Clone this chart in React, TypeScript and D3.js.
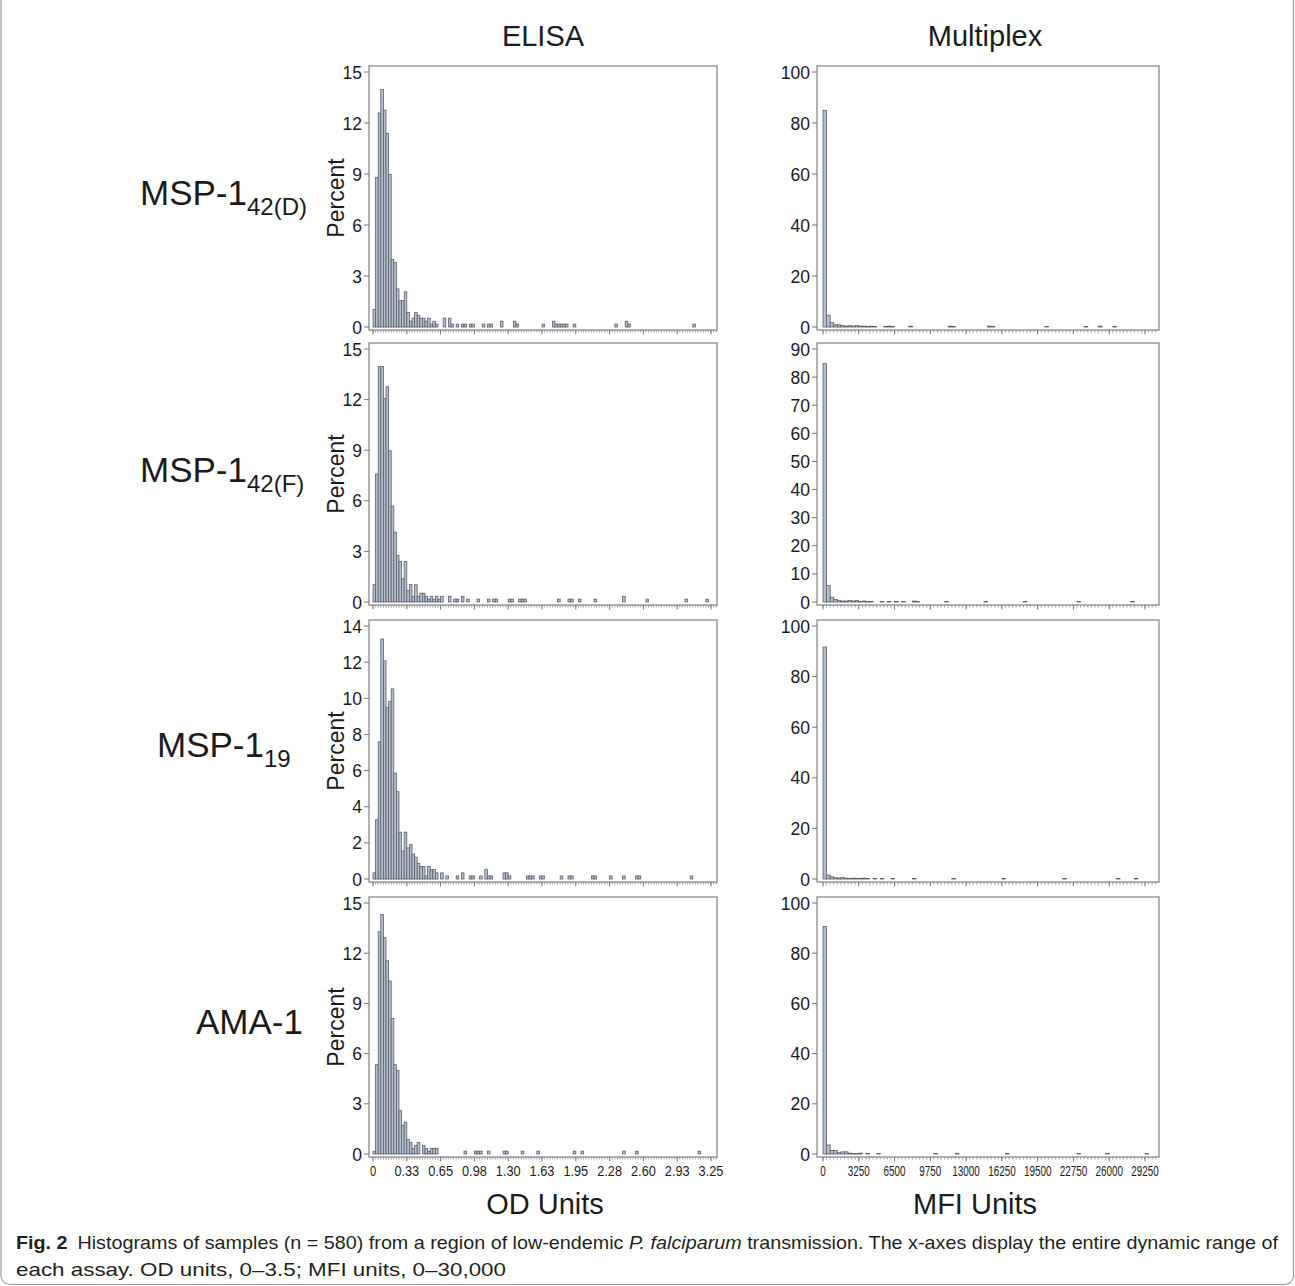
import React from "react";
import * as d3 from "d3";

// row labels
const antigenNames = ["MSP-1", "MSP-1", "MSP-1", "AMA-1"];
const antigenSubs = ["42(D)", "42(F)", "19", ""];

// x tick labels
const odTickLabels = ["0", "0.33", "0.65", "0.98", "1.30", "1.63", "1.95", "2.28", "2.60", "2.93", "3.25"];
const mfiTickLabels = ["0", "3250", "6500", "9750", "13000", "16250", "19500", "22750", "26000", "29250"];
const odTickStep = 0.325;
const mfiTickStep = 3250;
const odBinWidth = 0.025;
const mfiBinWidth = 325;

// y axes per row
const elisaYMax = [15, 15, 14, 15];
const elisaYStep = [3, 3, 2, 3];
const mfiYMax = [100, 90, 100, 100];
const mfiYStep = [20, 10, 20, 20];

// ELISA percent per bin: dense first bins, then [bin, percent] for the sparse tail
const elisaDHead = [1.03, 8.79, 12.59, 13.97, 12.76, 11.38, 8.97, 3.97, 3.79, 2.24, 1.55, 1.55, 2.07, 0.86, 0.34, 0.52, 0.86, 0.69, 0.52, 0.52, 0.34, 0.52, 0.17, 0.34, 0.17];
const elisaDTail = [[27, 0.52], [29, 0.52], [30, 0.17], [32, 0.17], [34, 0.17], [35, 0.17], [37, 0.17], [38, 0.17], [42, 0.17], [44, 0.17], [45, 0.17], [49, 0.34], [54, 0.34], [55, 0.17], [65, 0.17], [69, 0.34], [70, 0.17], [71, 0.17], [72, 0.17], [73, 0.17], [74, 0.17], [77, 0.17], [93, 0.17], [97, 0.34], [98, 0.17], [123, 0.17]];

const elisaFHead = [1.03, 7.59, 13.97, 13.97, 12.07, 12.76, 8.97, 5.69, 4.14, 2.76, 2.41, 1.38, 2.41, 0.69, 1.03, 0.34, 1.03, 0.34, 0.52, 0.52, 0.34, 0.17, 0.34, 0.17, 0.34, 0.17, 0.34];
const elisaFTail = [[29, 0.34], [31, 0.17], [32, 0.17], [34, 0.34], [36, 0.17], [40, 0.17], [44, 0.17], [46, 0.17], [47, 0.17], [52, 0.17], [53, 0.17], [56, 0.17], [57, 0.17], [58, 0.17], [71, 0.17], [75, 0.17], [76, 0.17], [79, 0.17], [85, 0.17], [96, 0.34], [105, 0.17], [120, 0.17], [128, 0.17]];

const elisa19Head = [0.34, 3.28, 7.59, 13.28, 12.07, 9.48, 9.83, 10.52, 5.86, 4.83, 2.59, 1.55, 2.59, 1.72, 1.9, 1.38, 1.21, 0.86, 0.69, 0.69, 0.17, 0.69, 0.52, 0.52, 0.34, 0, 0.34];
const elisa19Tail = [[28, 0.17], [32, 0.17], [34, 0.34], [37, 0.17], [38, 0.17], [41, 0.17], [43, 0.52], [44, 0.17], [45, 0.17], [50, 0.34], [51, 0.34], [52, 0.17], [59, 0.17], [60, 0.17], [61, 0.17], [64, 0.17], [65, 0.17], [72, 0.17], [75, 0.17], [76, 0.17], [84, 0.17], [85, 0.17], [91, 0.17], [96, 0.17], [101, 0.17], [102, 0.17], [122, 0.17]];

const elisaAmaHead = [0.17, 5.34, 13.28, 14.31, 12.93, 11.55, 10.34, 8.1, 5.34, 5.0, 2.59, 1.72, 1.9, 0.86, 0.69, 0.34, 0.52, 0.69, 0, 0.52, 0.34, 0.17, 0.34, 0.34, 0.34];
const elisaAmaTail = [[35, 0.17], [39, 0.17], [40, 0.17], [41, 0.17], [44, 0.17], [50, 0.17], [51, 0.17], [57, 0.17], [63, 0.17], [77, 0.17], [80, 0.17], [96, 0.17], [101, 0.17], [125, 0.17]];

// Multiplex percent per bin
const mfiDHead = [85.0, 4.66, 1.72, 0.86, 0.86, 0.52, 0.34, 0.52, 0.34, 0.52, 0.34, 0.34, 0.17, 0.34, 0.17];
const mfiDTail = [[17, 0.17], [18, 0.34], [19, 0.17], [24, 0.34], [35, 0.34], [36, 0.17], [46, 0.34], [47, 0.17], [62, 0.17], [73, 0.17], [77, 0.34], [81, 0.17]];

const mfiFHead = [84.8, 5.9, 1.72, 0.86, 0.52, 0.34, 0.34, 0.52, 0.34, 0.52, 0.17, 0.34, 0.17, 0.17];
const mfiFTail = [[16, 0.17], [18, 0.17], [20, 0.17], [22, 0.17], [25, 0.34], [26, 0.17], [34, 0.17], [45, 0.17], [56, 0.17], [71, 0.17], [86, 0.17]];

const mfi19Head = [91.7, 1.55, 0.86, 0.52, 0.34, 0.52, 0.34, 0.17, 0.34, 0.17, 0.17, 0.34, 0.17];
const mfi19Tail = [[14, 0.17], [16, 0.17], [19, 0.17], [25, 0.17], [36, 0.17], [50, 0.17], [67, 0.17], [82, 0.17], [87, 0.17]];

const mfiAmaHead = [90.7, 3.6, 1.38, 1.38, 0.52, 0.86, 0.86, 0.34, 0.17, 0.17, 0.34];
const mfiAmaTail = [[12, 0.17], [15, 0.17], [31, 0.17], [37, 0.17], [51, 0.17], [71, 0.17], [79, 0.17], [90, 0.17]];

const elisaHeads = [elisaDHead, elisaFHead, elisa19Head, elisaAmaHead];
const elisaTails = [elisaDTail, elisaFTail, elisa19Tail, elisaAmaTail];
const mfiHeads = [mfiDHead, mfiFHead, mfi19Head, mfiAmaHead];
const mfiTails = [mfiDTail, mfiFTail, mfi19Tail, mfiAmaTail];

const FONT = "'Liberation Sans', Arial, sans-serif";
const INK = "#1b1b1b";

const rows = [
  { top: 66, bottom: 330, labelY: 205, labelX: 140 },
  { top: 343, bottom: 605, labelY: 482, labelX: 140 },
  { top: 620, bottom: 882, labelY: 757, labelX: 157 },
  { top: 897, bottom: 1157, labelY: 1034, labelX: 196 },
];

type HistProps = {
  frameLeft: number;
  frameRight: number;
  top: number;
  bottom: number;
  xRange: [number, number];
  xMaxTick: number;
  tickStep: number;
  binWidth: number;
  tickLabels: string[] | null;
  charWidth: number;
  head: number[];
  tail: number[][];
  yMax: number;
  yStep: number;
  yLabelRight: number;
  percentLabel: boolean;
};

function Histogram(p: HistProps) {
  const x = d3.scaleLinear().domain([0, p.xMaxTick]).range(p.xRange);
  const y = d3.scaleLinear().domain([0, p.yMax]).range([p.bottom - 3, p.top + 6]);
  const bins = p.head
    .map((v, i) => ({ i, v }))
    .concat(p.tail.map(([i, v]) => ({ i, v })))
    .filter((b) => b.v > 0);
  const yTicks = d3.range(0, p.yMax + 0.001, p.yStep);
  const xMax = x.invert(p.frameRight);
  const minor = d3.range(0, xMax, p.binWidth);
  const major = d3.range(0, p.xMaxTick + p.tickStep / 2, p.tickStep);
  return (
    <g>
      {bins.map((b) => (
        <rect
          key={b.i}
          x={x(b.i * p.binWidth)}
          width={x((b.i + 1) * p.binWidth) - x(b.i * p.binWidth)}
          y={y(b.v)}
          height={y(0) - y(b.v)}
          fill="#b6bfce"
          stroke="#59606c"
          strokeWidth={0.8}
        />
      ))}
      <rect
        x={p.frameLeft}
        y={p.top}
        width={p.frameRight - p.frameLeft}
        height={p.bottom - p.top}
        fill="none"
        stroke="#9a9a9a"
        strokeWidth={1.5}
      />
      {minor.map((v, k) => (
        <line key={"m" + k} x1={x(v)} x2={x(v)} y1={p.bottom} y2={p.bottom + 2.5} stroke="#8a8a8a" strokeWidth={0.8} />
      ))}
      {major.map((v, k) => (
        <line key={"M" + k} x1={x(v)} x2={x(v)} y1={p.bottom} y2={p.bottom + 4.5} stroke="#777" strokeWidth={1} />
      ))}
      {yTicks.map((t) => (
        <g key={"y" + t}>
          <line x1={p.frameLeft - 5} x2={p.frameLeft} y1={y(t)} y2={y(t)} stroke="#777" strokeWidth={1} />
          <text x={p.yLabelRight} y={y(t) + 6.5} textAnchor="end" fontSize={17.5} fontFamily={FONT} fill={INK}>
            {t}
          </text>
        </g>
      ))}
      {p.tickLabels &&
        p.tickLabels.map((s, k) => (
          <text
            key={"xl" + k}
            x={x(k * p.tickStep)}
            y={p.bottom + 19}
            textAnchor="middle"
            fontSize={14}
            fontFamily={FONT}
            fill={INK}
            textLength={s.length * p.charWidth}
            lengthAdjust="spacingAndGlyphs"
          >
            {s}
          </text>
        ))}
      {p.percentLabel && (
        <text
          transform={`translate(344,${(p.top + p.bottom) / 2}) rotate(-90)`}
          textAnchor="middle"
          fontSize={23}
          fontFamily={FONT}
          fill={INK}
        >
          Percent
        </text>
      )}
    </g>
  );
}

export default function App() {
  const W = 1295;
  const H = 1286;
  return (
    <svg width={W} height={H} style={{ position: "absolute", left: 0, top: 0, background: "#fff" }}>
      <rect x={1} y={-10} width={W - 2.5} height={H - 1.5 + 10} rx={9} fill="#fff" stroke="#9c9c9c" strokeWidth={1.2} />
      <text x={543} y={46} textAnchor="middle" fontSize={29} fontFamily={FONT} fill={INK}>ELISA</text>
      <text x={985} y={46} textAnchor="middle" fontSize={29} fontFamily={FONT} fill={INK}>Multiplex</text>
      {rows.map((r, i) => (
        <g key={i}>
          <text x={r.labelX} y={r.labelY} fontSize={35} fontFamily={FONT} fill={INK}>
            {antigenNames[i]}
            {antigenSubs[i] && (
              <tspan fontSize={24} dy={10}>{antigenSubs[i]}</tspan>
            )}
          </text>
          <Histogram
            frameLeft={369}
            frameRight={717}
            top={r.top}
            bottom={r.bottom}
            xRange={[373, 711]}
            xMaxTick={odTickStep * (odTickLabels.length - 1)}
            tickStep={odTickStep}
            binWidth={odBinWidth}
            tickLabels={i === 3 ? odTickLabels : null}
            charWidth={6.2}
            head={elisaHeads[i]}
            tail={elisaTails[i]}
            yMax={elisaYMax[i]}
            yStep={elisaYStep[i]}
            yLabelRight={362}
            percentLabel={true}
          />
          <Histogram
            frameLeft={817}
            frameRight={1159}
            top={r.top}
            bottom={r.bottom}
            xRange={[823, 1145]}
            xMaxTick={mfiTickStep * (mfiTickLabels.length - 1)}
            tickStep={mfiTickStep}
            binWidth={mfiBinWidth}
            tickLabels={i === 3 ? mfiTickLabels : null}
            charWidth={5.5}
            head={mfiHeads[i]}
            tail={mfiTails[i]}
            yMax={mfiYMax[i]}
            yStep={mfiYStep[i]}
            yLabelRight={810}
            percentLabel={false}
          />
        </g>
      ))}
      <text x={545} y={1214} textAnchor="middle" fontSize={29} fontFamily={FONT} fill={INK}>OD Units</text>
      <text x={975} y={1214} textAnchor="middle" fontSize={29} fontFamily={FONT} fill={INK}>MFI Units</text>
      <text x={16} y={1249} fontSize={18.5} fontFamily={FONT} fill="#231f20" textLength={1262} lengthAdjust="spacingAndGlyphs">
        <tspan fontWeight="bold">Fig. 2</tspan>
        <tspan>{"\u2002Histograms of samples (n = 580) from a region of low-endemic "}</tspan>
        <tspan fontStyle="italic">P. falciparum</tspan>
        <tspan>{" transmission. The x-axes display the entire dynamic range of"}</tspan>
      </text>
      <text x={16} y={1276} fontSize={18.5} fontFamily={FONT} fill="#231f20" textLength={490} lengthAdjust="spacingAndGlyphs">
        each assay. OD units, 0–3.5; MFI units, 0–30,000
      </text>
    </svg>
  );
}
